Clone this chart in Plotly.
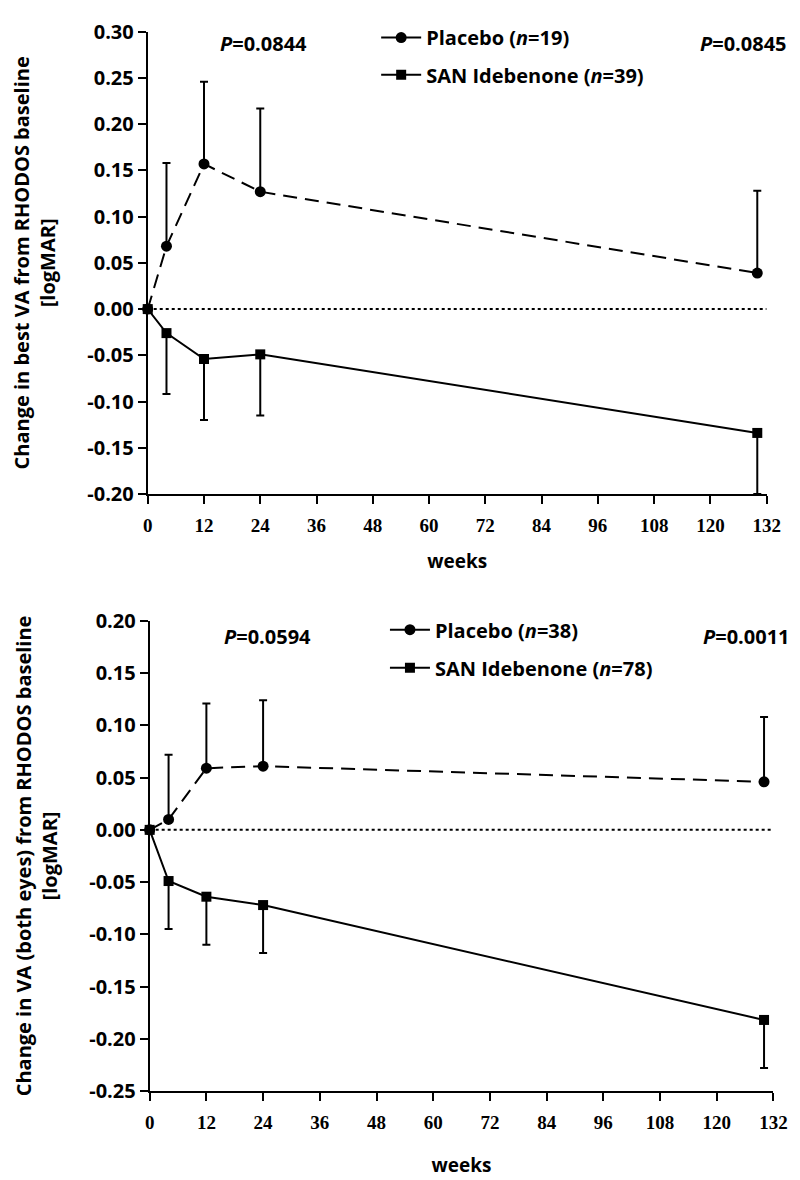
import plotly.graph_objects as go

# ---------------- data ----------------
weeks = [0, 4, 12, 24, 130]
x_ticks = [0, 12, 24, 36, 48, 60, 72, 84, 96, 108, 120, 132]
top_y_ticks = [-0.20, -0.15, -0.10, -0.05, 0.00, 0.05, 0.10, 0.15, 0.20, 0.25, 0.30]
bot_y_ticks = [-0.25, -0.20, -0.15, -0.10, -0.05, 0.00, 0.05, 0.10, 0.15, 0.20]

top_placebo = [0.0, 0.068, 0.157, 0.127, 0.039]
top_placebo_err = [0.0, 0.090, 0.089, 0.090, 0.089]
top_san = [0.0, -0.026, -0.054, -0.049, -0.134]
top_san_err = [0.0, 0.066, 0.066, 0.066, 0.066]

bot_placebo = [0.0, 0.010, 0.059, 0.061, 0.046]
bot_placebo_err = [0.0, 0.062, 0.062, 0.063, 0.062]
bot_san = [0.0, -0.049, -0.064, -0.072, -0.182]
bot_san_err = [0.0, 0.046, 0.046, 0.046, 0.046]

top_labels = ["Placebo (<i>n</i>=19)", "SAN Idebenone (<i>n</i>=39)"]
bot_labels = ["Placebo (<i>n</i>=38)", "SAN Idebenone (<i>n</i>=78)"]
top_p = ["<i>P</i>=0.0844", "<i>P</i>=0.0845"]
bot_p = ["<i>P</i>=0.0594", "<i>P</i>=0.0011"]

FONT = "Open Sans"
W, H = 800, 1180
zeros = [0] * len(weeks)


def fmt(v):
    s = f"{v:.2f}"
    return "0.00" if s == "-0.00" else s


fig = go.Figure()


def add_panel(xa, ya, placebo, placebo_err, san, san_err, labels, legs):
    fig.add_trace(go.Scatter(
        x=weeks, y=placebo, xaxis=xa, yaxis=ya, mode="lines+markers",
        line=dict(color="black", width=2, dash="14px,8px"),
        marker=dict(symbol="circle", size=11, color="black"),
        error_y=dict(type="data", symmetric=False, array=placebo_err,
                     arrayminus=zeros, color="black", thickness=2, width=4),
        cliponaxis=False, showlegend=False))
    fig.add_trace(go.Scatter(
        x=weeks, y=san, xaxis=xa, yaxis=ya, mode="lines+markers",
        line=dict(color="black", width=2),
        marker=dict(symbol="square", size=10, color="black"),
        error_y=dict(type="data", symmetric=False, array=zeros,
                     arrayminus=san_err, color="black", thickness=2, width=4),
        cliponaxis=False, showlegend=False))
    for lab, sym, sz, lg in zip(labels, ["circle", "square"], [11, 10], legs):
        fig.add_trace(go.Scatter(
            x=[None], y=[None], xaxis=xa, yaxis=ya, mode="lines+markers",
            line=dict(color="black", width=2),
            marker=dict(symbol=sym, size=sz, color="black"),
            name=lab, legend=lg, showlegend=True))


add_panel("x", "y", top_placebo, top_placebo_err, top_san, top_san_err,
          top_labels, ["legend", "legend2"])
add_panel("x2", "y2", bot_placebo, bot_placebo_err, bot_san, bot_san_err,
          bot_labels, ["legend3", "legend4"])

axis_common = dict(showline=True, linecolor="black", linewidth=2,
                   ticks="outside", ticklen=8, tickwidth=2, tickcolor="black",
                   showgrid=False, zeroline=False)
xtick_font = dict(family="Liberation Sans Narrow", size=19, color="black", weight="bold")
ytick_font = dict(family=FONT, size=20, color="black", weight="bold")
ytitle_font = dict(family=FONT, size=20, color="black", weight="bold")
xtitle_font = dict(family=FONT, size=19, color="black", weight="bold")

fig.update_layout(
    width=W, height=H, margin=dict(l=0, r=0, t=0, b=0),
    paper_bgcolor="white", plot_bgcolor="white",
    font=dict(family=FONT, color="black"),
    xaxis=dict(domain=[138 / W, 772 / W], anchor="y", range=[0, 132],
               tickvals=x_ticks, tickfont=xtick_font, ticklabelstandoff=5,
               title=dict(text="weeks", font=xtitle_font, standoff=20),
               **axis_common),
    yaxis=dict(domain=[1 - 483 / H, 1 - 10 / H], anchor="x", range=[-0.2, 0.3],
               tickvals=top_y_ticks, ticktext=[fmt(v) for v in top_y_ticks],
               tickfont=ytick_font,
               title=dict(text="Change in best VA from RHODOS baseline<br>[logMAR]",
                          font=ytitle_font, standoff=26),
               **axis_common),
    xaxis2=dict(domain=[140 / W, 779 / W], anchor="y2", range=[0, 132],
                tickvals=x_ticks, tickfont=xtick_font, ticklabelstandoff=5,
                title=dict(text="weeks", font=xtitle_font, standoff=27),
                **axis_common),
    yaxis2=dict(domain=[1 - 1094 / H, 1 - 613 / H], anchor="x2", range=[-0.25, 0.2],
                tickvals=bot_y_ticks, ticktext=[fmt(v) for v in bot_y_ticks],
                tickfont=ytick_font,
                title=dict(text="Change in VA (both eyes) from RHODOS baseline<br>[logMAR]",
                           font=ytitle_font, standoff=26),
                **axis_common),
)

leg_font = dict(family=FONT, size=20, color="black", weight="bold")


def legend_at(px, py):
    return dict(x=px / W, y=1 - py / H, xanchor="left", yanchor="top",
                xref="paper", yref="paper", bgcolor="rgba(0,0,0,0)",
                font=leg_font, itemwidth=40, borderwidth=0)


fig.update_layout(
    legend=legend_at(372, 20 - 24),
    legend2=legend_at(372, 58 - 24),
    legend3=legend_at(381, 626 - 24),
    legend4=legend_at(381, 665 - 24),
)

for xr, yr in [("x", "y"), ("x2", "y2")]:
    fig.add_shape(type="line", xref=xr, yref=yr, x0=0, x1=132, y0=0, y1=0,
                  line=dict(color="black", width=2, dash="dot"), layer="below")

ann_font = dict(family=FONT, size=20, color="black", weight="bold")
for txt, px, py in [(top_p[0], 257, 22), (top_p[1], 748, 22),
                    (bot_p[0], 261, 629), (bot_p[1], 751, 629)]:
    fig.add_annotation(text=txt, x=px / W, y=1 - py / H, xref="paper", yref="paper",
                       showarrow=False, xanchor="center", yanchor="middle", font=ann_font)

fig.write_html("out.html")
